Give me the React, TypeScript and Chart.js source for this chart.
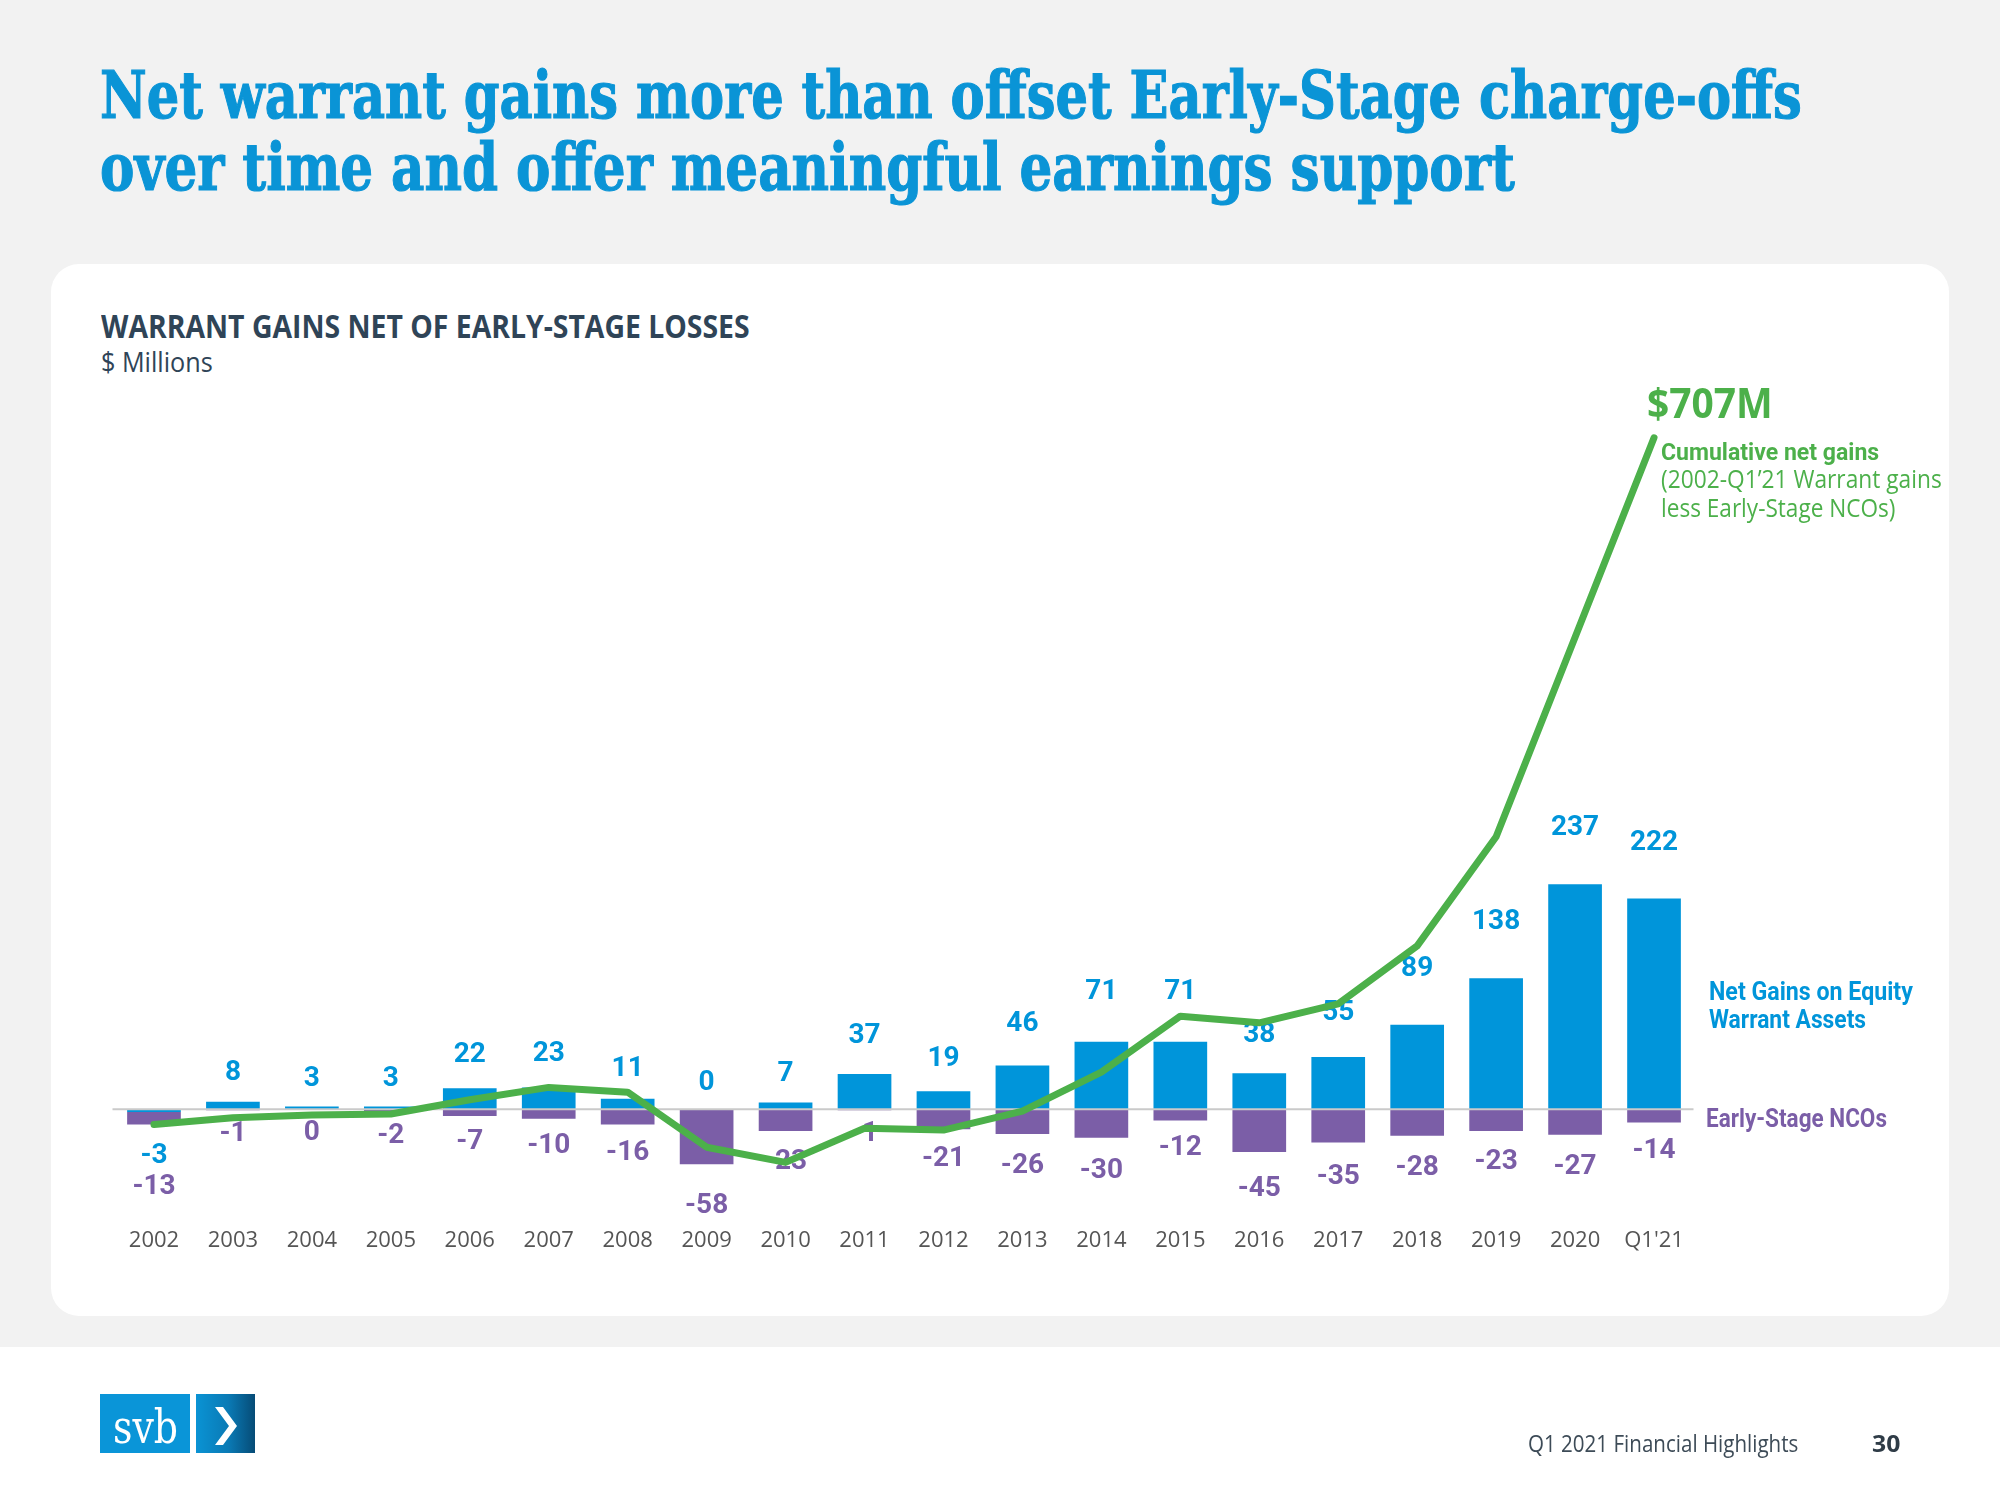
import React, { useEffect, useLayoutEffect, useRef } from 'react';
import { Chart, registerables } from 'chart.js';

Chart.register(...registerables);

const categories = ['2002', '2003', '2004', '2005', '2006', '2007', '2008', '2009', '2010', '2011', '2012', '2013', '2014', '2015', '2016', '2017', '2018', '2019', '2020', "Q1'21"];
const warrantGains = [-3, 8, 3, 3, 22, 23, 11, 0, 7, 37, 19, 46, 71, 71, 38, 55, 89, 138, 237, 222];
const earlyStageNCOs = [-13, -1, 0, -2, -7, -10, -16, -58, -23, -1, -21, -26, -30, -12, -45, -35, -28, -23, -27, -14];
const cumulativeNetGains = [-16, -9, -6, -5, 10, 23, 18, -40, -56, -20, -22, -2, 39, 98, 91, 111, 172, 287, 497, 707];

const BLUE = '#0095da';
const PURPLE = '#7b5ea7';
const GREEN = '#4cb04a';
const TITLE_BLUE = '#0a94d6';
const DARK = '#2f4457';

type FitProps = {
  text: string;
  x: number;
  baseline: number;
  width?: number;
  size: number;
  weight?: number;
  color: string;
  family: string;
  stroke?: number;
};

function Fit({ text, x, baseline, width, size, weight = 400, color, family, stroke = 0 }: FitProps) {
  const outer = useRef<HTMLSpanElement>(null);
  const mark = useRef<HTMLSpanElement>(null);
  useLayoutEffect(() => {
    const o = outer.current;
    const m = mark.current;
    if (!o || !m) return;
    o.style.transform = 'none';
    const b = m.offsetTop;
    o.style.top = `${baseline - b}px`;
    if (width) {
      const w = o.offsetWidth;
      o.style.transform = `scaleX(${width / w})`;
    }
  }, [text, x, baseline, width, size]);
  const style: any = {
    position: 'absolute',
    left: x,
    top: 0,
    whiteSpace: 'nowrap',
    fontFamily: family,
    fontSize: size,
    fontWeight: weight,
    color,
    lineHeight: 1,
    transformOrigin: '0 0',
  };
  if (stroke) style.WebkitTextStroke = `${stroke}px ${color}`;
  return (
    <span ref={outer} style={style}>
      {text}
      <span ref={mark} style={{ display: 'inline-block', width: 0, height: 0 }} />
    </span>
  );
}

const barLabelPlugin = {
  id: 'barLabels',
  beforeDatasetsDraw(chart: any) {
    const ctx = chart.ctx;
    const gm = chart.getDatasetMeta(1);
    const nm = chart.getDatasetMeta(2);
    ctx.save();
    ctx.font = '700 28px Roboto, "DejaVu Sans", sans-serif';
    ctx.textAlign = 'center';
    ctx.textBaseline = 'middle';
    categories.forEach((_, i) => {
      const g = warrantGains[i];
      const n = earlyStageNCOs[i];
      const gEl = gm.data[i];
      const nEl = nm.data[i];
      const x = gEl.x;
      const bottom = Math.max(gEl.y, gEl.base, nEl.y, nEl.base);
      const top = Math.min(gEl.y, gEl.base, nEl.y, nEl.base);
      const nOff = 24 + Math.min(Math.abs(n), 60) * 0.3;
      if (g >= 0) {
        ctx.fillStyle = BLUE;
        ctx.fillText(String(g), x, top - (26 + Math.min(g, 90) * 0.33));
        ctx.fillStyle = PURPLE;
        ctx.fillText(String(n), x, bottom + nOff);
      } else {
        ctx.fillStyle = BLUE;
        ctx.fillText(String(g), x, bottom + nOff + 4);
        ctx.fillStyle = PURPLE;
        ctx.fillText(String(n), x, bottom + nOff + 35);
      }
    });
    ctx.restore();
  },
  afterDatasetDraw(chart: any, args: any) {
    if (args.index !== 1) return;
    const ctx = chart.ctx;
    const y = chart.scales.y.getPixelForValue(0);
    ctx.save();
    ctx.strokeStyle = '#cacaca';
    ctx.lineWidth = 2;
    ctx.beginPath();
    ctx.moveTo(chart.chartArea.left - 2, y);
    ctx.lineTo(chart.chartArea.right, y);
    ctx.stroke();
    ctx.restore();
  },
};

function WarrantChart() {
  const ref = useRef<HTMLCanvasElement>(null);
  useEffect(() => {
    if (!ref.current) return;
    const chart = new Chart(ref.current, {
      type: 'bar',
      data: {
        labels: categories,
        datasets: [
          {
            type: 'line',
            label: 'Cumulative net gains',
            data: cumulativeNetGains,
            borderColor: GREEN,
            backgroundColor: GREEN,
            borderWidth: 7,
            pointRadius: 0,
            tension: 0,
            fill: false,
            stack: 'cum',
            order: 0,
            borderCapStyle: 'round',
            borderJoinStyle: 'round',
          } as any,
          {
            type: 'bar',
            label: 'Net Gains on Equity Warrant Assets',
            data: warrantGains,
            backgroundColor: BLUE,
            stack: 'bars',
            order: 1,
            barPercentage: 0.68,
            categoryPercentage: 1,
          },
          {
            type: 'bar',
            label: 'Early-Stage NCOs',
            data: earlyStageNCOs,
            backgroundColor: PURPLE,
            stack: 'bars',
            order: 2,
            barPercentage: 0.68,
            categoryPercentage: 1,
          },
        ],
      },
      options: {
        responsive: false,
        animation: false,
        devicePixelRatio: 1,
        layout: { padding: { left: 114.5, right: 306.5, top: 397, bottom: 204.4 } },
        plugins: { legend: { display: false }, tooltip: { enabled: false } },
        scales: {
          x: {
            stacked: true,
            grid: { display: false, drawTicks: false },
            border: { display: false },
            ticks: {
              color: '#555555',
              font: { family: '"Open Sans", sans-serif', size: 22 },
              padding: 42,
              maxRotation: 0,
              autoSkip: false,
            },
          },
          y: {
            stacked: true,
            min: -80,
            max: 750,
            display: true,
            ticks: { display: false, stepSize: 50 },
            border: { display: false },
            grid: { display: false, drawTicks: false },
          },
        },
      } as any,
      plugins: [barLabelPlugin],
    });
    return () => chart.destroy();
  }, []);
  return (
    <canvas
      ref={ref}
      width={2000}
      height={1500}
      style={{ position: 'absolute', left: 0, top: 0, width: 2000, height: 1500 }}
    />
  );
}

export default function App() {
  useLayoutEffect(() => {
    document.body.style.margin = '0';
  }, []);
  const sans = '"Open Sans", sans-serif';
  const cond = 'Roboto, "Open Sans", sans-serif';
  const serif = '"DejaVu Serif", serif';
  return (
    <div style={{ position: 'relative', width: 2000, height: 1500, background: '#f2f2f2', overflow: 'hidden' }}>
      <div style={{ position: 'absolute', left: 0, top: 1347, width: 2000, height: 153, background: '#ffffff' }} />
      <div style={{ position: 'absolute', left: 51, top: 264, width: 1898, height: 1052, background: '#ffffff', borderRadius: 28 }} />

      <Fit text="Net warrant gains more than offset Early-Stage charge-offs" x={100} baseline={118} width={1702} size={65} weight={700} color={TITLE_BLUE} family={serif} stroke={1.2} />
      <Fit text="over time and offer meaningful earnings support" x={100} baseline={190} width={1415} size={65} weight={700} color={TITLE_BLUE} family={serif} stroke={1.2} />

      <Fit text="WARRANT GAINS NET OF EARLY-STAGE LOSSES" x={101} baseline={338} width={649} size={32} weight={700} color={DARK} family={sans} />
      <Fit text="$ Millions" x={101} baseline={372} width={112} size={27} weight={400} color={DARK} family={sans} />

      <WarrantChart />

      <Fit text="$707M" x={1647} baseline={418} width={126} size={42} weight={700} color={GREEN} family={sans} />
      <Fit text="Cumulative net gains" x={1661} baseline={460} width={218} size={24} weight={700} color={GREEN} family={cond} />
      <Fit text="(2002-Q1’21 Warrant gains" x={1661} baseline={488} width={281} size={25} weight={400} color={GREEN} family={sans} />
      <Fit text="less Early-Stage NCOs)" x={1661} baseline={517} width={234} size={25} weight={400} color={GREEN} family={sans} />

      <Fit text="Net Gains on Equity" x={1709} baseline={1000} width={204} size={25} weight={700} color={BLUE} family={cond} />
      <Fit text="Warrant Assets" x={1709} baseline={1028} width={157} size={25} weight={700} color={BLUE} family={cond} />
      <Fit text="Early-Stage NCOs" x={1706} baseline={1127} width={181} size={25} weight={700} color={PURPLE} family={cond} />

      <div style={{ position: 'absolute', left: 100, top: 1394, width: 90, height: 59, background: '#0a95d8' }} />
      <Fit text="svb" x={113} baseline={1443} width={65} size={46} weight={400} color="#ffffff" family={serif} />
      <div style={{ position: 'absolute', left: 196, top: 1394, width: 59, height: 59, background: 'linear-gradient(to right, #0a93d4 0%, #0a7ab5 55%, #064b76 100%)' }}>
        <svg width={59} height={59} style={{ position: 'absolute', left: 0, top: 0 }}>
          <polygon points="19,13 27,13 41,32 27,51 19,51 33,32" fill="#ffffff" />
        </svg>
      </div>

      <Fit text="Q1 2021 Financial Highlights" x={1528} baseline={1452} width={270} size={23} weight={400} color="#3d4b57" family={sans} />
      <Fit text="30" x={1872} baseline={1452} width={28} size={23} weight={700} color="#2f3c47" family={sans} />
    </div>
  );
}
